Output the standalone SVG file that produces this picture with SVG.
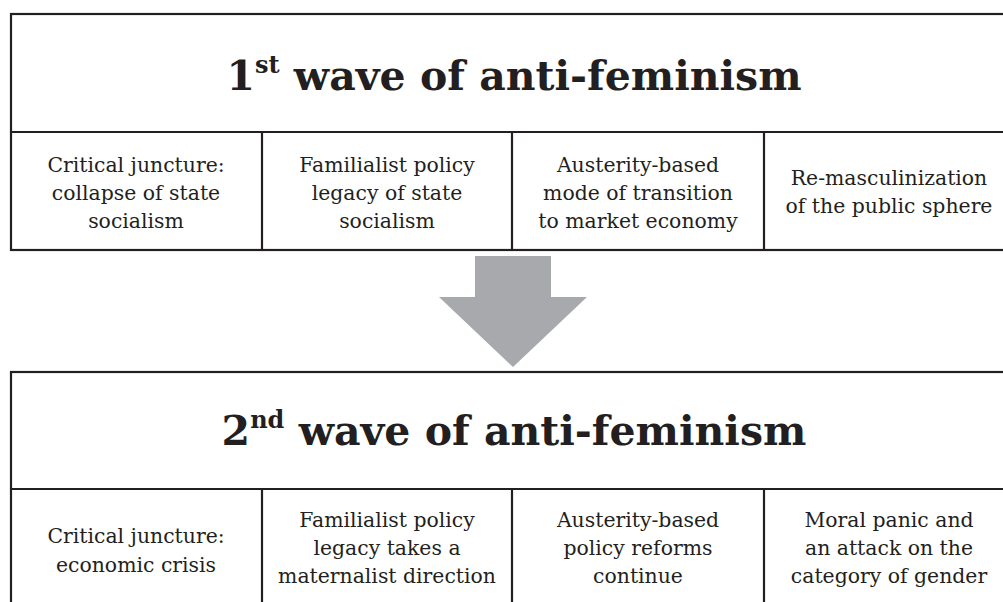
<svg xmlns="http://www.w3.org/2000/svg" width="1003" height="602" viewBox="0 0 1003 602">
<style>
.box{fill:#fff;stroke:#231f20;stroke-width:2.2}
.ln{stroke:#231f20;stroke-width:2.2}
.title{font-family:"DejaVu Serif",serif;font-weight:bold;font-size:41px;fill:#231f20;text-anchor:middle}
.sup{font-size:24px}
.body{font-family:"DejaVu Serif",serif;font-size:20.4px;fill:#231f20;text-anchor:middle}
</style>
<rect width="1003" height="602" fill="#fff"/>
<g id="wave1">
<rect class="box" x="11" y="14" width="1004" height="236"/>
<line class="ln" x1="11" y1="132" x2="1015" y2="132"/>
<line class="ln" x1="262" y1="132" x2="262" y2="250"/>
<line class="ln" x1="512" y1="132" x2="512" y2="250"/>
<line class="ln" x1="764" y1="132" x2="764" y2="250"/>
<text class="title" x="514" y="90">1<tspan class="sup" dy="-17">st</tspan><tspan dy="17"> wave of anti-feminism</tspan></text>
<text class="body" x="136" y="172">Critical juncture:</text>
<text class="body" x="136" y="200">collapse of state</text>
<text class="body" x="136" y="228">socialism</text>
<text class="body" x="387" y="172">Familialist policy</text>
<text class="body" x="387" y="200">legacy of state</text>
<text class="body" x="387" y="228">socialism</text>
<text class="body" x="638" y="172">Austerity-based</text>
<text class="body" x="638" y="200">mode of transition</text>
<text class="body" x="638" y="228">to market economy</text>
<text class="body" x="889" y="185">Re-masculinization</text>
<text class="body" x="889" y="213">of the public sphere</text>
</g>
<g id="connectors">
<polygon points="475,256 551,256 551,297 587,297 513,367 439,297 475,297" fill="#a7a9ac"/>
</g>
<g id="wave2">
<rect class="box" x="11" y="372" width="1004" height="240"/>
<line class="ln" x1="11" y1="489" x2="1015" y2="489"/>
<line class="ln" x1="262" y1="489" x2="262" y2="612"/>
<line class="ln" x1="512" y1="489" x2="512" y2="612"/>
<line class="ln" x1="764" y1="489" x2="764" y2="612"/>
<text class="title" x="514" y="445">2<tspan class="sup" dy="-17">nd</tspan><tspan dy="17"> wave of anti-feminism</tspan></text>
<text class="body" x="136" y="543">Critical juncture:</text>
<text class="body" x="136" y="572">economic crisis</text>
<text class="body" x="387" y="527">Familialist policy</text>
<text class="body" x="387" y="555">legacy takes a</text>
<text class="body" x="387" y="583">maternalist direction</text>
<text class="body" x="638" y="527">Austerity-based</text>
<text class="body" x="638" y="555">policy reforms</text>
<text class="body" x="638" y="583">continue</text>
<text class="body" x="889" y="527">Moral panic and</text>
<text class="body" x="889" y="555">an attack on the</text>
<text class="body" x="889" y="583">category of gender</text>
</g>
</svg>
